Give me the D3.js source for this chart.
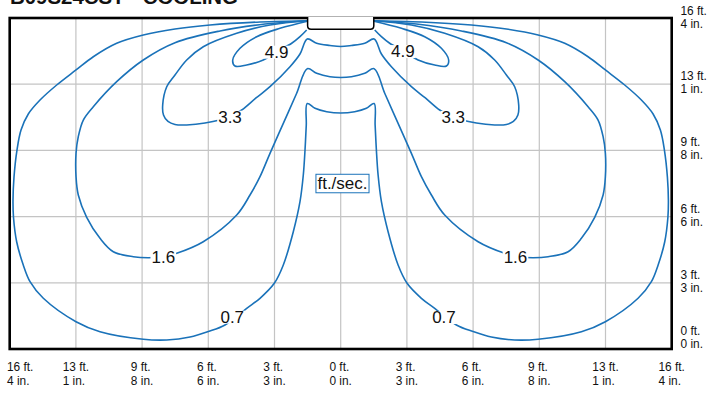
<!DOCTYPE html>
<html>
<head>
<meta charset="utf-8">
<script src="https://cdn.jsdelivr.net/npm/d3@7"></script>
<style>
  html, body { margin: 0; padding: 0; background: #fff; }
  svg { display: block; }
</style>
</head>
<body>
<svg id="chart" width="709" height="394"></svg>
<script>
// ---------------- DATA ----------------
const title = "B09S24CST - COOLING";
// horizontal positions (metres from unit centre) and their labels
const xTickValues = [-5, -4, -3, -2, -1, 0, 1, 2, 3, 4, 5];
const xTickLabels = [["16 ft.","4 in."],["13 ft.","1 in."],["9 ft.","8 in."],["6 ft.","6 in."],["3 ft.","3 in."],["0 ft.","0 in."],
                     ["3 ft.","3 in."],["6 ft.","6 in."],["9 ft.","8 in."],["13 ft.","1 in."],["16 ft.","4 in."]];
// vertical positions (metres from floor) and their labels
const yTickValues = [0, 1, 2, 3, 4, 5];
const yTickLabels = [["0 ft.","0 in."],["3 ft.","3 in."],["6 ft.","6 in."],["9 ft.","8 in."],["13 ft.","1 in."],["16 ft.","4 in."]];

const unitLabel = "ft./sec.";

// isovel contours (x, y in metres)
const contour07 = [[-0.489,4.959],[-1.219,4.940],[-1.974,4.894],[-2.503,4.834],[-2.982,4.743],[-3.384,4.618],[-3.737,4.415],[-3.998,4.215],[-4.290,3.988],[-4.542,3.761],[-4.719,3.550],[-4.829,3.308],[-4.890,3.006],[-4.935,2.598],[-4.950,2.251],[-4.943,1.994],[-4.894,1.616],[-4.795,1.269],[-4.693,1.017],[-4.492,0.766],[-3.998,0.412],[-3.636,0.261],[-2.982,0.147],[-2.628,0.136],[-2.276,0.181],[-2.000,0.264],[-1.748,0.363],[-1.420,0.615],[-1.219,0.766],[-1.003,0.992],[-0.867,1.269],[-0.716,1.772],[-0.615,2.225],[-0.565,2.628],[-0.539,3.006],[-0.520,3.384],[-0.505,3.708],[-0.388,3.636],[-0.211,3.585],[0,3.565],
  [0.211,3.585],[0.388,3.636],[0.505,3.708],[0.520,3.384],[0.539,3.006],[0.565,2.628],[0.615,2.225],[0.716,1.772],[0.867,1.269],[1.003,0.992],[1.219,0.766],[1.420,0.615],[1.748,0.363],[2.000,0.264],[2.276,0.181],[2.628,0.136],[2.982,0.147],[3.636,0.261],[3.998,0.412],[4.492,0.766],[4.693,1.017],[4.795,1.269],[4.894,1.616],[4.943,1.994],[4.950,2.251],[4.935,2.598],[4.890,3.006],[4.829,3.308],[4.719,3.550],[4.542,3.761],[4.290,3.988],[3.998,4.215],[3.737,4.415],[3.384,4.618],[2.982,4.743],[2.503,4.834],[1.974,4.894],[1.219,4.940],[0.489,4.959]];

const contour16 = [[-0.489,4.959],[-1.144,4.909],[-1.823,4.804],[-2.503,4.627],[-2.982,4.366],[-3.384,4.038],[-3.737,3.660],[-3.888,3.459],[-3.964,3.207],[-3.998,2.956],[-3.998,2.603],[-3.964,2.326],[-3.837,1.989],[-3.636,1.672],[-3.435,1.470],[-3.133,1.394],[-2.906,1.379],[-2.680,1.394],[-2.477,1.446],[-2.076,1.621],[-1.571,2.024],[-1.370,2.326],[-1.219,2.603],[-1.068,2.956],[-0.867,3.409],[-0.665,3.863],[-0.505,4.235],[-0.363,4.165],[-0.162,4.113],[0,4.101],
  [0.162,4.113],[0.363,4.165],[0.505,4.235],[0.665,3.863],[0.867,3.409],[1.068,2.956],[1.219,2.603],[1.370,2.326],[1.571,2.024],[2.076,1.621],[2.477,1.446],[2.680,1.394],[2.906,1.379],[3.133,1.394],[3.435,1.470],[3.636,1.672],[3.837,1.989],[3.964,2.326],[3.998,2.603],[3.998,2.956],[3.964,3.207],[3.888,3.459],[3.737,3.660],[3.384,4.038],[2.982,4.366],[2.503,4.627],[1.823,4.804],[1.144,4.909],[0.489,4.959]];

const contour33 = [[-0.489,4.959],[-1.068,4.894],[-1.571,4.769],[-2.076,4.566],[-2.326,4.366],[-2.503,4.139],[-2.628,3.962],[-2.689,3.686],[-2.677,3.535],[-2.609,3.437],[-2.503,3.391],[-2.326,3.384],[-2.050,3.414],[-1.672,3.509],[-1.495,3.610],[-1.279,3.792],[-1.068,3.962],[-0.766,4.264],[-0.615,4.456],[-0.505,4.683],[-0.363,4.618],[-0.162,4.585],[0,4.569],
  [0.162,4.585],[0.363,4.618],[0.505,4.683],[0.615,4.456],[0.766,4.264],[1.068,3.962],[1.279,3.792],[1.495,3.610],[1.672,3.509],[2.050,3.414],[2.326,3.384],[2.503,3.391],[2.609,3.437],[2.677,3.535],[2.689,3.686],[2.628,3.962],[2.503,4.139],[2.326,4.366],[2.076,4.566],[1.571,4.769],[1.068,4.894],[0.489,4.959]];

const contour49Left = [[-0.489,4.955],[-0.917,4.844],[-1.269,4.718],[-1.521,4.542],[-1.631,4.366],[-1.597,4.275],[-1.420,4.290],[-1.169,4.366],[-0.967,4.491],[-0.740,4.618],[-0.615,4.718],[-0.514,4.819]];
const contour49Right = [[0.489,4.955],[0.917,4.844],[1.269,4.718],[1.521,4.542],[1.631,4.366],[1.597,4.275],[1.420,4.290],[1.169,4.366],[0.967,4.491],[0.740,4.618],[0.615,4.718],[0.514,4.819]];

const contours = [contour07, contour16, contour33, contour49Left, contour49Right];

const labelTexts = ["4.9","4.9","3.3","3.3","1.6","1.6","0.7","0.7"];
const labelX     = [-0.967, 0.94, -1.672, 1.70, -2.680, 2.64, -1.638, 1.56];
const labelY     = [4.491, 4.50, 3.509, 3.505, 1.394, 1.39, 0.488, 0.483];

// ---------------- DRAW ----------------
const svg = d3.select("#chart");
const W = 709, H = 394;
svg.append("rect").attr("width", W).attr("height", H).attr("fill", "#fff");

const x = d3.scaleLinear().domain([-5, 5]).range([9.7, 671.7]);
const y = d3.scaleLinear().domain([0, 5]).range([349, 18]);

const blue = "#1a72b9";
const axisFont = "'Liberation Sans',Arial,sans-serif";
const mainFont = "'Liberation Sans',Arial,sans-serif";
const axisSize = 13.5, condense = 0.88;

// grid
const grid = svg.append("g");
grid.selectAll("line.v").data(xTickValues.slice(1, -1)).join("line")
  .attr("x1", d => x(d)).attr("x2", d => x(d)).attr("y1", y(5)).attr("y2", y(0))
  .attr("stroke", "#c4c4c4").attr("stroke-width", 1.2);
grid.selectAll("line.h").data(yTickValues.slice(1, -1)).join("line")
  .attr("y1", d => y(d)).attr("y2", d => y(d)).attr("x1", x(-5)).attr("x2", x(5))
  .attr("stroke", "#c4c4c4").attr("stroke-width", 1.2);

// contours
const line = d3.line().x(d => x(d[0])).y(d => y(d[1])).curve(d3.curveCatmullRom.alpha(0.5));
svg.append("g").selectAll("path").data(contours).join("path")
  .attr("d", line).attr("fill", "none").attr("stroke", blue).attr("stroke-width", 1.6)
  .attr("stroke-linejoin", "round");

// contour labels with knock-out background
const lab = svg.append("g").selectAll("g").data(labelTexts.map((t, i) => ({t, x: labelX[i], y: labelY[i]}))).join("g");
lab.append("rect").attr("fill", "#fff");
lab.append("text").text(d => d.t)
  .attr("x", d => x(d.x)).attr("y", d => y(d.y) + 6)
  .attr("text-anchor", "middle").attr("font-family", mainFont).attr("font-size", 17).attr("fill", "#111");
lab.each(function() {
  const g = d3.select(this);
  const bb = g.select("text").node().getBBox();
  g.select("rect").attr("x", bb.x - 1).attr("y", bb.y + 3).attr("width", bb.width + 2).attr("height", bb.height - 6);
});

// frame
svg.append("rect").attr("x", x(-5)).attr("y", y(5)).attr("width", x(5) - x(-5)).attr("height", y(0) - y(5))
  .attr("fill", "none").attr("stroke", "#000").attr("stroke-width", 2.6);

// ceiling unit
const ux0 = x(-0.5), ux1 = x(0.5), uy0 = y(5) - 1, uy1 = y(4.83), r = 3.5;
svg.append("path")
  .attr("d", `M${ux0},${uy0} L${ux0},${uy1 - r} Q${ux0},${uy1} ${ux0 + r},${uy1} L${ux1 - r},${uy1} Q${ux1},${uy1} ${ux1},${uy1 - r} L${ux1},${uy0}`)
  .attr("fill", "#fff").attr("stroke", "#000").attr("stroke-width", 1.5);

// unit label box
const ul = svg.append("g");
const ulText = ul.append("text").text(unitLabel)
  .attr("x", x(0.027)).attr("y", y(2.511) + 6)
  .attr("text-anchor", "middle").attr("font-family", mainFont).attr("font-size", 17).attr("fill", "#111");
const ubb = ulText.node().getBBox();
ul.insert("rect", "text").attr("x", ubb.x - 1.5).attr("y", ubb.y + 0.5).attr("width", ubb.width + 3).attr("height", ubb.height - 0.5)
  .attr("fill", "#fff").attr("stroke", blue).attr("stroke-width", 1);

// condensed axis text helper
function condensed(sel) {
  sel.attr("font-family", axisFont).attr("font-size", axisSize).attr("fill", "#111");
  sel.each(function() {
    const w = this.getComputedTextLength();
    d3.select(this).attr("textLength", w * condense).attr("lengthAdjust", "spacingAndGlyphs");
  });
}

// bottom axis labels
const bx = svg.append("g").selectAll("g").data(xTickValues.map((v, i) => ({v, l: xTickLabels[i]}))).join("g");
bx.each(function(d) {
  const g = d3.select(this);
  g.append("text").text(d.l[0]).attr("y", 371);
  g.append("text").text(d.l[1]).attr("y", 385);
  condensed(g.selectAll("text"));
  const w = d3.max(g.selectAll("text").nodes(), n => +n.getAttribute("textLength"));
  const sx = Math.max(7, x(d.v) - w / 2);
  g.selectAll("text").attr("x", sx);
});

// right axis labels
const ry = svg.append("g").selectAll("g").data(yTickValues.map((v, i) => ({v, l: yTickLabels[i]}))).join("g");
ry.each(function(d) {
  const g = d3.select(this);
  const b = Math.max(15, Math.min(y(d.v) - 4, 335));
  g.append("text").text(d.l[0]).attr("y", b);
  g.append("text").text(d.l[1]).attr("y", b + 13);
  g.selectAll("text").attr("x", 680.5);
  condensed(g.selectAll("text"));
});

// title (cut off at top in the original)
svg.append("text").text(title).attr("x", 10).attr("y", 4)
  .attr("font-family", mainFont).attr("font-weight", "bold").attr("font-size", 20)
  .attr("textLength", 228).attr("lengthAdjust", "spacingAndGlyphs").attr("fill", "#111");
</script>
</body>
</html>
